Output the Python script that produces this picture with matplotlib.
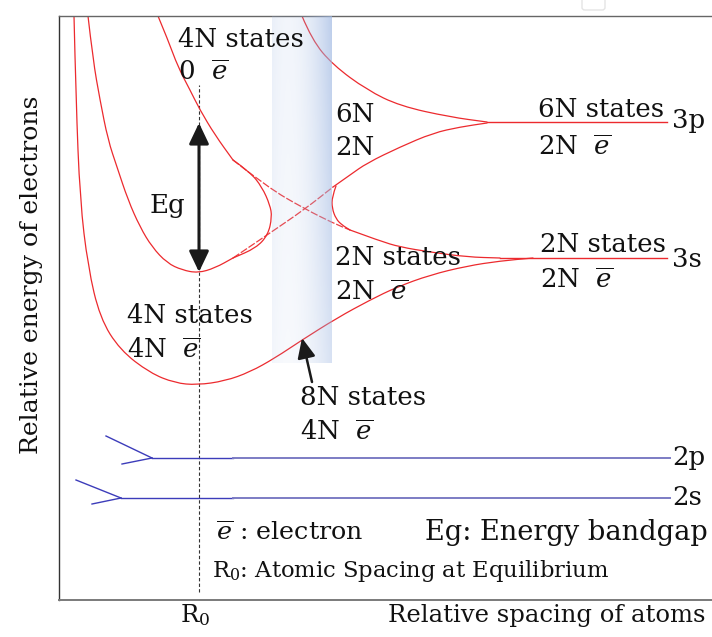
import numpy as np
import matplotlib
matplotlib.use('Agg')
import matplotlib.pyplot as plt
from matplotlib.path import Path
from matplotlib.patches import PathPatch, FancyArrowPatch, FancyBboxPatch

plt.rcParams['font.family'] = ['DejaVu Serif']
plt.rcParams['mathtext.fontset'] = 'dejavuserif'

# x = relative spacing, y = relative energy (arbitrary units)
R0 = 140
LEVEL_START = {'3p': 428, '3s': 441}
LEVEL_END = 611
E_3P, E_3S, E_2P, E_2S = 478, 342, 142, 102

# 3s lower edge -> bottom of the valence band
VB_LOW_X = [15, 17, 21, 29, 41, 61, 91, 116, 138, 166, 191, 216, 243, 278, 311, 338, 371, 408, 441, 474]
VB_LOW_Y = [584, 500, 400, 333, 282, 250, 227, 217, 215, 219, 228, 242, 260, 282, 300, 313, 325, 334, 339, 342]
# top of the valence band (Eg bottom)
VB_TOP_X = [29, 34, 41, 49, 58, 69, 81, 93, 108, 123, 139, 156, 174]
VB_TOP_Y = [584, 540, 500, 460, 433, 400, 373, 353, 337, 330, 327, 332, 342]
# bottom of the conduction band (Eg top)
CB_BOT_X = [99, 109, 119, 131, 141, 156, 174]
CB_BOT_Y = [584, 560, 533, 510, 490, 465, 440]
# dashed crossing lines
CROSS1_X = [174, 211, 246, 274]
CROSS1_Y = [342, 367, 391, 413]
CROSS2_X = [174, 208, 246, 274, 291]
CROSS2_Y = [440, 413, 391, 377, 370]
# 3p lower edge and 3s upper edge
P_LOW_X = [274, 291, 308, 341, 374, 401, 428]
P_LOW_Y = [413, 425, 437, 453, 467, 473, 477]
S_UP_X = [291, 321, 341, 371, 408, 441]
S_UP_Y = [370, 359, 353, 348, 343, 342]
# 3p upper edge
P_UP_X = [243, 253, 274, 308, 341, 391, 428]
P_UP_Y = [584, 560, 535, 510, 494, 483, 478]
# the two hybridisation bows
BOW_L_X = [174, 191, 203, 211, 213, 209, 197, 174]
BOW_L_Y = [440, 428, 413, 395, 383, 365, 352, 342]
BOW_R_X = [277, 273, 273, 277, 283, 291]
BOW_R_Y = [414, 403, 392, 381, 375, 370]

# inner levels (2p, 2s) with their forks
FORK_2P_X = [[47, 93], [63, 93]]
FORK_2P_Y = [[164, 142], [136, 142]]
FORK_2S_X = [[17, 62], [33, 62]]
FORK_2S_Y = [[120, 102], [96, 102]]
INNER_START = {'2p': 93, '2s': 62}
INNER_SPLIT = 174

BAND_X = (213, 273)
BAND_Y = (237, 584)

RED = '#ec2a2e'
BLUE_DARK = '#3c3cba'
BLUE_LIGHT = '#7c7cc4'
INK = '#111111'
BIG = 18.7


def smooth_path(xs, ys):
    pts = list(zip(xs, ys))
    verts, codes = [pts[0]], [Path.MOVETO]
    for i in range(1, len(pts) - 1):
        mid = ((pts[i][0] + pts[i + 1][0]) / 2, (pts[i][1] + pts[i + 1][1]) / 2)
        verts += [pts[i], mid]
        codes += [Path.CURVE3, Path.CURVE3]
    verts.append(pts[-1])
    codes.append(Path.LINETO)
    return Path(verts, codes)


def curve(ax, xs, ys, **kw):
    style = dict(fill=False, edgecolor=RED, lw=0.9, zorder=2, capstyle='round')
    style.update(kw)
    ax.add_patch(PathPatch(smooth_path(xs, ys), **style))


fig = plt.figure(figsize=(7.12, 6.37), dpi=100)
ax = fig.add_axes([59 / 712, 37 / 637, 653 / 712, 584 / 637])

# red bands
for xs, ys in [(VB_LOW_X, VB_LOW_Y), (VB_TOP_X, VB_TOP_Y), (CB_BOT_X, CB_BOT_Y),
               (P_LOW_X, P_LOW_Y), (S_UP_X, S_UP_Y), (P_UP_X, P_UP_Y),
               (BOW_L_X, BOW_L_Y), (BOW_R_X, BOW_R_Y)]:
    curve(ax, xs, ys)
for xs, ys in [(CROSS1_X, CROSS1_Y), (CROSS2_X, CROSS2_Y)]:
    curve(ax, xs, ys, alpha=0.9, linestyle=(0, (6, 1.5)), capstyle='butt')
ax.plot([LEVEL_START['3p'], LEVEL_END - 3], [E_3P, E_3P], color=RED, lw=1.0, zorder=2)
ax.plot([LEVEL_START['3s'], LEVEL_END - 3], [E_3S, E_3S], color=RED, lw=1.0, zorder=2)

# blue inner levels
for fx, fy, start, e in [(FORK_2P_X, FORK_2P_Y, INNER_START['2p'], E_2P),
                         (FORK_2S_X, FORK_2S_Y, INNER_START['2s'], E_2S)]:
    for xs, ys in zip(fx, fy):
        ax.plot(xs, ys, color=BLUE_DARK, lw=1.0, zorder=2)
    ax.plot([start, INNER_SPLIT], [e, e], color=BLUE_DARK, lw=1.0, zorder=2)
    ax.plot([INNER_SPLIT, LEVEL_END], [e, e], color=BLUE_LIGHT, lw=1.4, zorder=2)

# shaded equilibrium region
gx = np.linspace(0, 1, 80)
gy = np.linspace(0, 1, 120)
rgba = np.zeros((120, 80, 4))
rgba[..., 0], rgba[..., 1], rgba[..., 2] = 0.62, 0.72, 0.89
ramp = 0.22 * (1 - gx) ** 3 + 0.68 * gx ** 2
rgba[..., 3] = ramp[None, :] * (0.6 + 0.4 * gy[:, None])
ax.imshow(rgba, extent=[BAND_X[0], BAND_X[1], BAND_Y[0], BAND_Y[1]], origin='lower',
          aspect='auto', interpolation='bilinear', zorder=3)

# R0 guide
ax.plot([R0, R0], [8, 515], color='#333333', lw=0.8, ls=(0, (3, 2)), zorder=1)

# arrows
ax.add_patch(FancyArrowPatch((R0, 328), (R0, 477), arrowstyle='<|-|>,head_length=1.05,head_width=0.5',
                             mutation_scale=12, lw=2.2, color='#1a1a1a', shrinkA=0, shrinkB=0, zorder=5))
ax.add_patch(FancyArrowPatch((253, 218), (243, 262), arrowstyle='-|>,head_length=1.0,head_width=0.45',
                             mutation_scale=12, lw=1.8, color='#1a1a1a', shrinkA=0, shrinkB=0, zorder=5))

EBAR = r'$\overline{e}$'
labels = [
    (119, 553, '4N states'), (119, 520, '0  ' + EBAR),
    (276, 478, '6N'), (276, 445, '2N'),
    (479, 483, '6N states'), (479, 445, '2N  ' + EBAR),
    (481, 348, '2N states'), (481, 312, '2N  ' + EBAR),
    (276, 335, '2N states'), (276, 300, '2N  ' + EBAR),
    (91, 387, 'Eg'),
    (68, 277, '4N states'), (68, 242, '4N  ' + EBAR),
    (241, 195, '8N states'), (241, 160, '4N  ' + EBAR),
    (613, 472, '3p'), (613, 333, '3s'), (613, 135, '2p'), (613, 95, '2s'),
]
for x, y, s in labels:
    ax.text(x, y, s, fontsize=BIG, ha='left', va='baseline', color=INK, zorder=6)

ax.text(157, 60, EBAR + ' : electron', fontsize=18.3, ha='left', va='baseline', color=INK, zorder=6)
ax.text(366, 60, 'Eg: Energy bandgap', fontsize=19.6, ha='left', va='baseline', color=INK, zorder=6)
ax.text(153, 23, r'R$_0$: Atomic Spacing at Equilibrium', fontsize=16.3, ha='left', va='baseline',
        color=INK, zorder=6)

ax.text(136, -22, r'R$_0$', fontsize=17.5, ha='center', va='baseline', color=INK, clip_on=False)
ax.text(646, -22, 'Relative spacing of atoms', fontsize=17.5, ha='right', va='baseline',
        color=INK, clip_on=False)
ax.text(-27, 325, 'Relative energy of electrons', fontsize=18.1, rotation=90, ha='center', va='center',
        color=INK, clip_on=False)

ax.set_xlim(0, 653)
ax.set_ylim(0, 584)
ax.set_xticks([])
ax.set_yticks([])
ax.spines['right'].set_visible(False)
ax.spines['left'].set_color('#333333')
ax.spines['left'].set_linewidth(1.0)
ax.spines['top'].set_color('#666666')
ax.spines['top'].set_linewidth(1.0)
ax.spines['bottom'].set_color('#7a7a7a')
ax.spines['bottom'].set_linewidth(1.4)

fig.patches.append(FancyBboxPatch((582 / 712, 627 / 637), 23 / 712, 20 / 637,
                                  boxstyle='round,pad=0,rounding_size=0.004', transform=fig.transFigure,
                                  fc='none', ec='#e4e4e4', lw=1.0))

fig.savefig('out.png', dpi=100, facecolor='white')
